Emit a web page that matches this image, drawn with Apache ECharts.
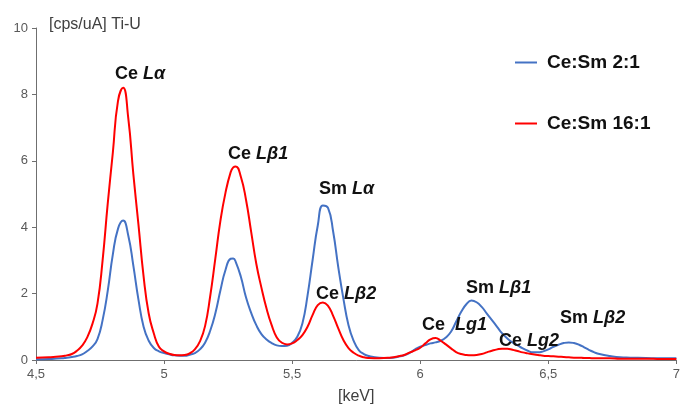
<!DOCTYPE html>
<html>
<head>
<meta charset="utf-8">
<script src="https://cdn.jsdelivr.net/npm/echarts@6/dist/echarts.min.js"></script>
<style>
  html, body { margin: 0; padding: 0; background: #fff; }
  #spectrum { width: 683px; height: 410px; }
</style>
</head>
<body>
<div id="spectrum"></div>
<script>
// energy axis [keV]
const energy = [
  4.50, 4.55, 4.60, 4.62, 4.64, 4.66, 4.68, 4.70, 4.72, 4.74, 4.76, 4.78, 4.80, 4.82, 4.84, 4.86, 4.88, 4.90,
  4.92, 4.94, 4.96, 4.98, 5.00, 5.02, 5.04, 5.06, 5.08, 5.10, 5.12, 5.14, 5.16, 5.18, 5.20, 5.22, 5.24, 5.26,
  5.27, 5.28, 5.30, 5.32, 5.34, 5.36, 5.38, 5.40, 5.42, 5.44, 5.46, 5.48, 5.50, 5.52, 5.54, 5.56, 5.58, 5.60,
  5.62, 5.64, 5.66, 5.68, 5.70, 5.72, 5.74, 5.76, 5.78, 5.80, 5.84, 5.88, 5.92, 5.94, 5.96, 5.98, 6.00, 6.02,
  6.04, 6.06, 6.08, 6.10, 6.12, 6.14, 6.16, 6.18, 6.20, 6.22, 6.24, 6.26, 6.28, 6.30, 6.32, 6.34, 6.36, 6.38,
  6.40, 6.42, 6.44, 6.46, 6.48, 6.50, 6.52, 6.54, 6.56, 6.58, 6.60, 6.62, 6.64, 6.66, 6.68, 6.70, 6.74, 6.78,
  6.82, 6.88, 6.94, 7.00
];

// Ce:Sm 2:1 (blue)
const ceSm2to1 = [
  0.02, 0.03, 0.05, 0.07, 0.09, 0.12, 0.17, 0.27, 0.40, 0.63, 1.20, 2.08, 3.18, 3.95, 4.20, 3.76, 2.84, 1.82,
  1.00, 0.58, 0.36, 0.26, 0.21, 0.17, 0.14, 0.13, 0.13, 0.16, 0.21, 0.32, 0.52, 0.88, 1.40, 2.10, 2.72, 3.05,
  3.06, 2.95, 2.50, 1.88, 1.42, 1.05, 0.78, 0.62, 0.51, 0.44, 0.42, 0.43, 0.52, 0.70, 1.10, 1.94, 3.02, 4.05,
  4.65, 4.58, 3.87, 2.80, 1.85, 1.05, 0.58, 0.30, 0.18, 0.12, 0.07, 0.06, 0.11, 0.15, 0.22, 0.32, 0.40, 0.45,
  0.50, 0.53, 0.58, 0.68, 0.85, 1.15, 1.45, 1.68, 1.79, 1.74, 1.60, 1.40, 1.20, 1.00, 0.80, 0.65, 0.53, 0.44,
  0.35, 0.28, 0.23, 0.23, 0.26, 0.32, 0.40, 0.46, 0.51, 0.53, 0.51, 0.46, 0.38, 0.30, 0.23, 0.18, 0.12, 0.08,
  0.07, 0.06, 0.05, 0.05
];

// Ce:Sm 16:1 (red)
const ceSm16to1 = [
  0.07, 0.08, 0.11, 0.14, 0.18, 0.28, 0.43, 0.68, 1.08, 1.70, 3.00, 4.71, 6.25, 7.80, 8.20, 7.30, 5.60, 4.08,
  2.52, 1.40, 0.80, 0.40, 0.26, 0.19, 0.15, 0.14, 0.15, 0.20, 0.32, 0.56, 1.02, 1.92, 3.05, 4.20, 5.05, 5.66,
  5.80, 5.83, 5.51, 4.82, 3.86, 2.90, 2.18, 1.55, 1.05, 0.68, 0.52, 0.47, 0.50, 0.60, 0.75, 1.00, 1.36, 1.65,
  1.73, 1.63, 1.33, 0.95, 0.60, 0.36, 0.22, 0.13, 0.08, 0.06, 0.05, 0.07, 0.12, 0.16, 0.23, 0.29, 0.37, 0.50,
  0.62, 0.66, 0.58, 0.47, 0.35, 0.24, 0.18, 0.15, 0.14, 0.15, 0.18, 0.23, 0.28, 0.32, 0.34, 0.34, 0.31, 0.27,
  0.23, 0.20, 0.17, 0.15, 0.13, 0.12, 0.11, 0.10, 0.09, 0.08, 0.07, 0.07, 0.06, 0.06, 0.05, 0.05, 0.05, 0.04,
  0.04, 0.04, 0.03, 0.03
];

const seriesNames = ['Ce:Sm 2:1', 'Ce:Sm 16:1'];
const yTicks = [0, 2, 4, 6, 8, 10];

// peak labels: element + line
const peakLabels = [
  ['Ce', 'Lα'], ['Ce', 'Lβ1'], ['Sm', 'Lα'], ['Ce', 'Lβ2'],
  ['Ce ', 'Lg1'], ['Sm', 'Lβ1'], ['Ce', 'Lg2'], ['Sm', 'Lβ2']
];
// where each label sits on the canvas (left, middle)
const labelSpots = [[115, 74], [228, 154], [319, 189], [316, 294], [422, 325], [466, 288], [499, 341], [560, 318]];

const chart = echarts.init(document.getElementById('spectrum'));

const pairs = (ys) => energy.map((x, i) => [x, ys[i]]);
const FONT = 'Liberation Sans, Arial, sans-serif';

const option = {
  animation: false,
  backgroundColor: '#fff',
  textStyle: { fontFamily: FONT },
  grid: { left: 36, right: 2, top: 28, bottom: 45 },
  title: {
    text: '[cps/uA] Ti-U',
    left: 49, top: 17, padding: 0,
    textStyle: { fontSize: 16, fontWeight: 'normal', color: '#404040' }
  },
  legend: {
    orient: 'vertical',
    left: 515, top: 53, padding: 0,
    itemGap: 42, itemWidth: 22, itemHeight: 2,
    icon: 'rect',
    data: seriesNames,
    textStyle: { fontSize: 19, fontWeight: 'bold', color: '#111', padding: [0, 0, 0, 5] }
  },
  xAxis: {
    type: 'value',
    min: 4.5, max: 7, interval: 0.5,
    name: '[keV]', nameLocation: 'middle', nameGap: 29,
    nameTextStyle: { fontSize: 16, color: '#404040' },
    splitLine: { show: false },
    axisLine: { lineStyle: { color: '#6f6f6f', width: 1 } },
    axisTick: { show: true, length: 4, lineStyle: { color: '#6f6f6f' } },
    axisLabel: {
      fontSize: 13, color: '#595959', margin: 8,
      formatter: (v) => String(v).replace('.', ',')
    }
  },
  yAxis: {
    type: 'value',
    min: yTicks[0], max: yTicks[yTicks.length - 1], interval: 2,
    splitLine: { show: false },
    axisLine: { show: true, lineStyle: { color: '#6f6f6f', width: 1 } },
    axisTick: { show: true, length: 4, lineStyle: { color: '#6f6f6f' } },
    axisLabel: { fontSize: 13, color: '#595959', margin: 8 }
  },
  series: [
    {
      name: seriesNames[0],
      type: 'line',
      smooth: 0.5,
      symbol: 'none',
      data: pairs(ceSm2to1),
      itemStyle: { color: '#4472C4' },
      lineStyle: { color: '#4472C4', width: 2 },
      z: 2
    },
    {
      name: seriesNames[1],
      type: 'line',
      smooth: 0.5,
      symbol: 'none',
      data: pairs(ceSm16to1),
      itemStyle: { color: '#FF0000' },
      lineStyle: { color: '#FF0000', width: 2 },
      z: 3
    }
  ],
  graphic: peakLabels.map((lab, i) => ({
    type: 'text',
    x: labelSpots[i][0],
    y: labelSpots[i][1],
    z: 10,
    style: {
      text: '{a|' + lab[0] + ' }{b|' + lab[1] + '}',
      verticalAlign: 'middle',
      align: 'left',
      rich: {
        a: { fontSize: 18, fontWeight: 'bold', fill: '#111', fontFamily: FONT },
        b: { fontSize: 18, fontWeight: 'bold', fontStyle: 'italic', fill: '#111', fontFamily: FONT }
      }
    }
  }))
};

chart.setOption(option);
</script>
</body>
</html>
